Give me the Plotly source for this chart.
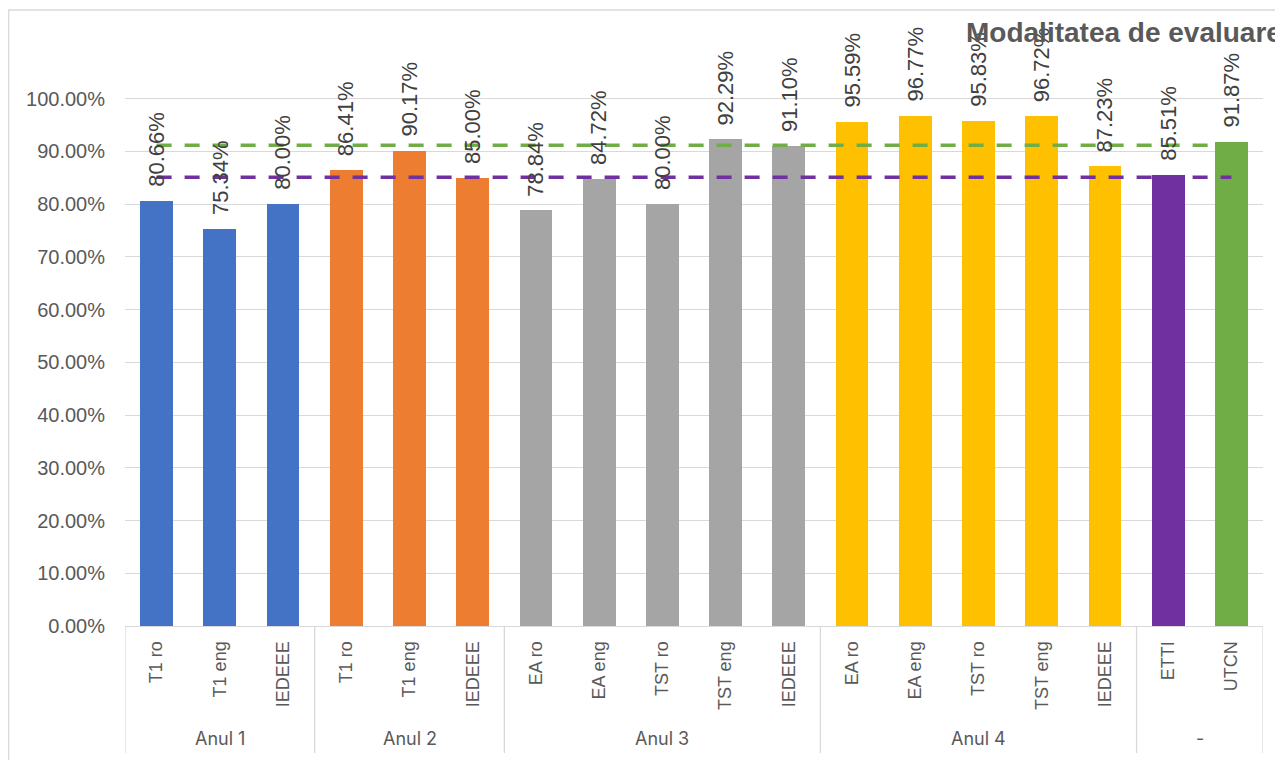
import plotly.graph_objects as go

# ---------------------------------------------
# Data
# ---------------------------------------------
groups = ["Anul 1", "Anul 2", "Anul 3", "Anul 4", "-"]
group_sizes = [3, 3, 5, 5, 2]
group_colors = ["#4472C4", "#ED7D31", "#A5A5A5", "#FFC000", None]

categories = [
    "T1 ro", "T1 eng", "IEDEEE",
    "T1 ro", "T1 eng", "IEDEEE",
    "EA ro", "EA eng", "TST ro", "TST eng", "IEDEEE",
    "EA ro", "EA eng", "TST ro", "TST eng", "IEDEEE",
    "ETTI", "UTCN",
]
values = [
    80.66, 75.34, 80.00,
    86.41, 90.17, 85.00,
    78.84, 84.72, 80.00, 92.29, 91.10,
    95.59, 96.77, 95.83, 96.72, 87.23,
    85.51, 91.87,
]
last_colors = ["#7030A0", "#70AD47"]

ref_green = 91.2
ref_purple = 85.1

y_ticks = [0, 10, 20, 30, 40, 50, 60, 70, 80, 90, 100]

TITLE = "Modalitatea de evaluare"

# ---------------------------------------------
# Styling
# ---------------------------------------------
FONT = "Liberation Sans, Arial, sans-serif"
GRID = "#D9D9D9"
TEXT = "#595959"
LABEL = "#404040"

# page body adds an 8px margin, so work in figure pixels
W, H = 1275, 752
M_L, M_R, M_T, M_B = 117, 20, 38, 134
PH = H - M_T - M_B
PW = W - M_L - M_R
Y0 = M_T + PH  # pixel row of the x axis


def py(row):
    return (Y0 - row) / PH


def px(col):
    return (col - M_L) / PW


x = list(range(len(categories)))

colors = []
for size, col in zip(group_sizes, group_colors):
    colors += [col] * size
colors[-2:] = last_colors

fig = go.Figure()

fig.add_trace(
    go.Bar(
        x=x,
        y=values,
        marker=dict(color=colors, line=dict(width=0)),
        width=0.52,
        showlegend=False,
        hoverinfo="skip",
    )
)

# reference lines over all categories
for val, col in [(ref_green, "#70AD47"), (ref_purple, "#7030A0")]:
    fig.add_trace(
        go.Scatter(
            x=x,
            y=[val] * len(x),
            mode="lines",
            line=dict(color=col, width=3.5, dash="15px,13px"),
            showlegend=False,
            hoverinfo="skip",
        )
    )

annotations = []

# data labels
for xi, v in zip(x, values):
    annotations.append(
        dict(
            x=xi, y=v, xref="x", yref="y",
            text=f"{v:.2f}%",
            textangle=-90,
            showarrow=False,
            xanchor="center", yanchor="bottom",
            yshift=12,
            font=dict(family=FONT, size=22, color=LABEL),
        )
    )

# group labels and separators
shapes = []
start = 0
bounds = [-0.5]
for g, size in zip(groups, group_sizes):
    mid = start + (size - 1) / 2
    annotations.append(
        dict(
            x=mid, y=py(731), xref="x", yref="paper",
            text=g, showarrow=False,
            xanchor="center", yanchor="middle",
            font=dict(family="Inter, sans-serif", size=18, color=TEXT),
        )
    )
    start += size
    bounds.append(start - 0.5)

for b in bounds:
    shapes.append(
        dict(
            type="line", xref="x", yref="paper",
            x0=b, x1=b, y0=0, y1=py(745),
            line=dict(color=GRID, width=1.3),
        )
    )

# chart border
shapes.append(
    dict(
        type="rect", xref="paper", yref="paper",
        x0=px(0.7), x1=px(1300),
        y0=py(800), y1=py(2),
        line=dict(color=GRID, width=1.3),
        fillcolor="rgba(0,0,0,0)",
        layer="below",
    )
)

# title
annotations.append(
    dict(
        x=px(956), y=py(24),
        xref="paper", yref="paper",
        text=f"<b>{TITLE}</b>", showarrow=False,
        xanchor="left", yanchor="middle",
        font=dict(family=FONT, size=28, color=TEXT),
    )
)

fig.update_layout(
    width=W,
    height=H,
    margin=dict(l=M_L, r=M_R, t=M_T, b=M_B),
    paper_bgcolor="white",
    plot_bgcolor="white",
    bargap=0,
    annotations=annotations,
    shapes=shapes,
    xaxis=dict(
        range=[-0.5, len(categories) - 0.5],
        tickmode="array",
        tickvals=x,
        ticktext=categories,
        tickangle=-90,
        showgrid=False,
        zeroline=False,
        showline=True,
        linecolor=GRID,
        linewidth=1.3,
        ticks="",
        ticklabelstandoff=7,
        tickfont=dict(family=FONT, size=18, color=TEXT),
    ),
    yaxis=dict(
        range=[0, 110],
        tickmode="array",
        tickvals=y_ticks,
        ticktext=[f"{v:.2f}%" for v in y_ticks],
        showgrid=True,
        gridcolor=GRID,
        gridwidth=1.3,
        zeroline=False,
        showline=False,
        ticks="",
        ticklabelstandoff=19,
        tickfont=dict(family=FONT, size=20, color=TEXT),
    ),
)

fig.write_html("out.html")
